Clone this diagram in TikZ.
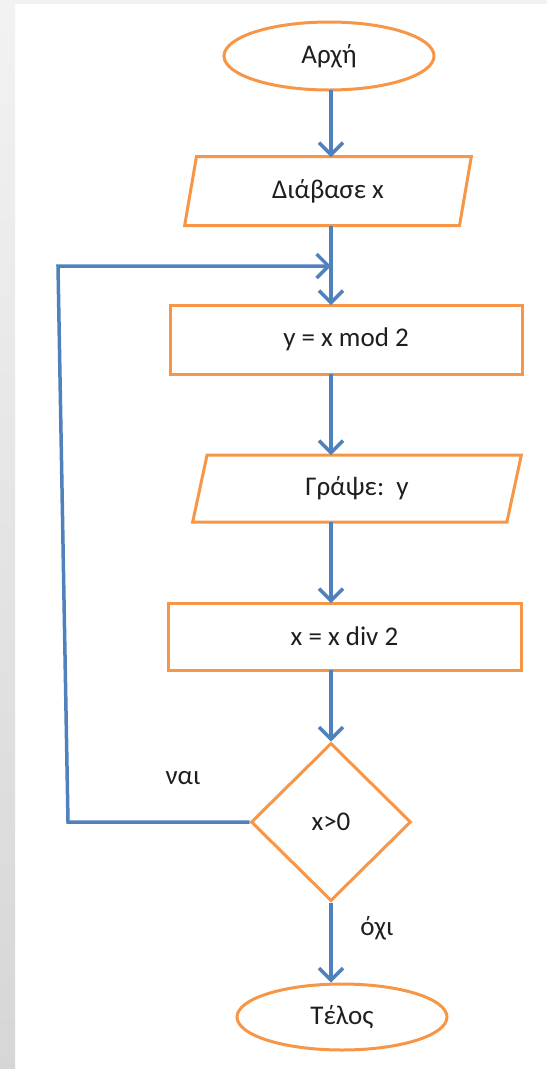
\documentclass[tikz,border=0pt]{standalone}
\usepackage{fontspec}
\setmainfont{Carlito}
\usetikzlibrary{shapes.geometric,arrows.meta}

\definecolor{boxorange}{HTML}{F79646}
\definecolor{flowblue}{HTML}{4F81BD}
\definecolor{textdark}{HTML}{1E1E1E}

\tikzset{
  shape base/.style={draw=boxorange, line width=3pt, fill=white, inner sep=0pt,
    text=textdark, font=\fontsize{27}{31}\selectfont},
  terminal/.style={shape base, ellipse},
  process/.style={shape base, rectangle},
  inout/.style={shape base, trapezium, trapezium left angle=78,
    trapezium right angle=102, trapezium stretches=true},
  decision/.style={shape base, diamond},
  flow/.style={draw=flowblue, line width=3.5pt,
    -{Straight Barb[length=12pt,width=24pt,line width=3.5pt]}},
  branch/.style={text=textdark, font=\fontsize{27}{31}\selectfont}
}

\begin{document}
\begin{tikzpicture}[x=1pt,y=-1pt]
  % page frame
  \useasboundingbox (0,0) rectangle (547,1069);
  \fill[white] (0,0) rectangle (547,1069);
  \fill[gray!10] (0,0) rectangle (547,4);
  \shade[top color=gray!10, bottom color=gray!32] (0,0) rectangle (15,1069);

  % steps of the algorithm
  \node[terminal, minimum width=210pt, minimum height=68pt] (start) at (329,56) {Αρχή};
  \node[inout, minimum width=287pt, minimum height=69pt] (read) at (328,191) {Διάβασε x};
  \node[process, minimum width=352pt, minimum height=69pt] (mod) at (346,339.5) {y = x mod 2};
  \node[inout, minimum width=329pt, minimum height=67pt] (write) at (357,488.5) {Γράψε:\ \ y};
  \node[process, minimum width=353pt, minimum height=67pt] (div) at (344.5,636.5) {x = x div 2};
  \node[decision, minimum width=160pt, minimum height=158pt] (test) at (331,822) {x>0};
  \node[terminal, minimum width=210pt, minimum height=66pt] (stop) at (342,1017) {Τέλος};

  % branch labels
  \node[branch] (yes) at (183,778) {ναι};
  \node[branch] (no) at (377,928) {όχι};

  % loop-back route
  \coordinate (join) at (331,266);
  \coordinate (loopbot) at (68,822);
  \coordinate (looptop) at (58,266);

  % connectors
  \draw[flow] (331,90) -- (331,157);
  \draw[flow] (331,226) -- (331,305);
  \draw[flow] (331,374) -- (331,455);
  \draw[flow] (331,522) -- (331,603);
  \draw[flow] (331,670) -- (test.north);
  \draw[flow] (test.south) -- (test.south |- stop.north);
  \draw[flow] (test.west) -- (loopbot) -- (looptop) -- (join);
\end{tikzpicture}
\end{document}
